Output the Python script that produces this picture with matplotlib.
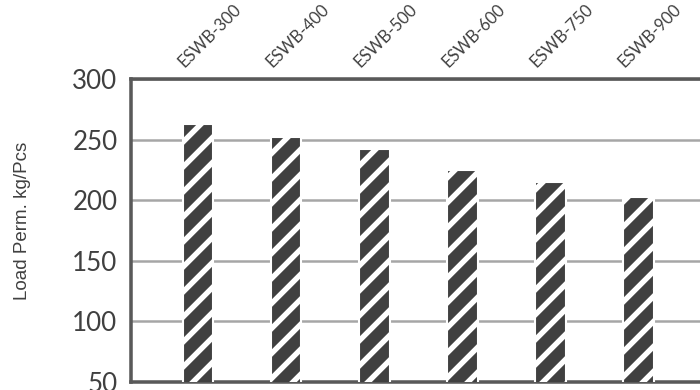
import matplotlib
matplotlib.use("Agg")
import matplotlib.pyplot as plt
import matplotlib.transforms as mtransforms
import numpy as np

# Load permitted per piece
models = ["ESWB-300", "ESWB-400", "ESWB-500", "ESWB-600", "ESWB-750", "ESWB-900"]
load_kg = [263, 252, 242, 225, 215, 203]
y_ticks = [50, 100, 150, 200, 250, 300]

dark = "#404040"
grid = "#a6a6a6"
spine = "#595959"

DPI = 150  # hatch spacing follows the dpi: "//" gives ~25 px stripes here
plt.rcParams["hatch.linewidth"] = 2.6

fig = plt.figure(figsize=(700 / DPI, 390 / DPI), dpi=DPI)
ax = fig.add_axes([131 / 700, 1 - 382 / 390, 1 - 131 / 700, (382 - 79) / 390])

x = np.arange(len(models))
ax.bar(x, load_kg, width=0.35, color=dark, edgecolor="white",
       linewidth=1.0, hatch="//", zorder=3)

ax.set_ylim(50, 300)
ax.set_xlim(-0.76, 5.7)
ax.set_yticks(y_ticks)
ax.set_yticklabels([str(v) for v in y_ticks], family="Lato", fontsize=12.5, color=dark)
ax.tick_params(axis="y", length=0, pad=6.5)

ax.yaxis.grid(True, color=grid, linewidth=1.2, zorder=0)
ax.set_axisbelow(True)

ax.xaxis.tick_top()
ax.set_xticks(x)
ax.set_xticklabels(models, family="Lato", fontsize=8, color=dark,
                   rotation=45, ha="left", va="center", rotation_mode="anchor")
ax.tick_params(axis="x", length=0, pad=7)
shift = mtransforms.ScaledTranslation(-17 / DPI, 0, fig.dpi_scale_trans)
for lab in ax.get_xticklabels():
    lab.set_transform(lab.get_transform() + shift)

for side in ["left", "bottom", "top"]:
    ax.spines[side].set_color(spine)
    ax.spines[side].set_linewidth(1.7)
ax.spines["right"].set_visible(False)

ax.set_ylabel("Load Perm. kg/Pcs", family="Liberation Sans", fontsize=9,
              color=dark)
ax.yaxis.set_label_coords(-0.176, 0.531)

fig.savefig("out.png", dpi=DPI)
